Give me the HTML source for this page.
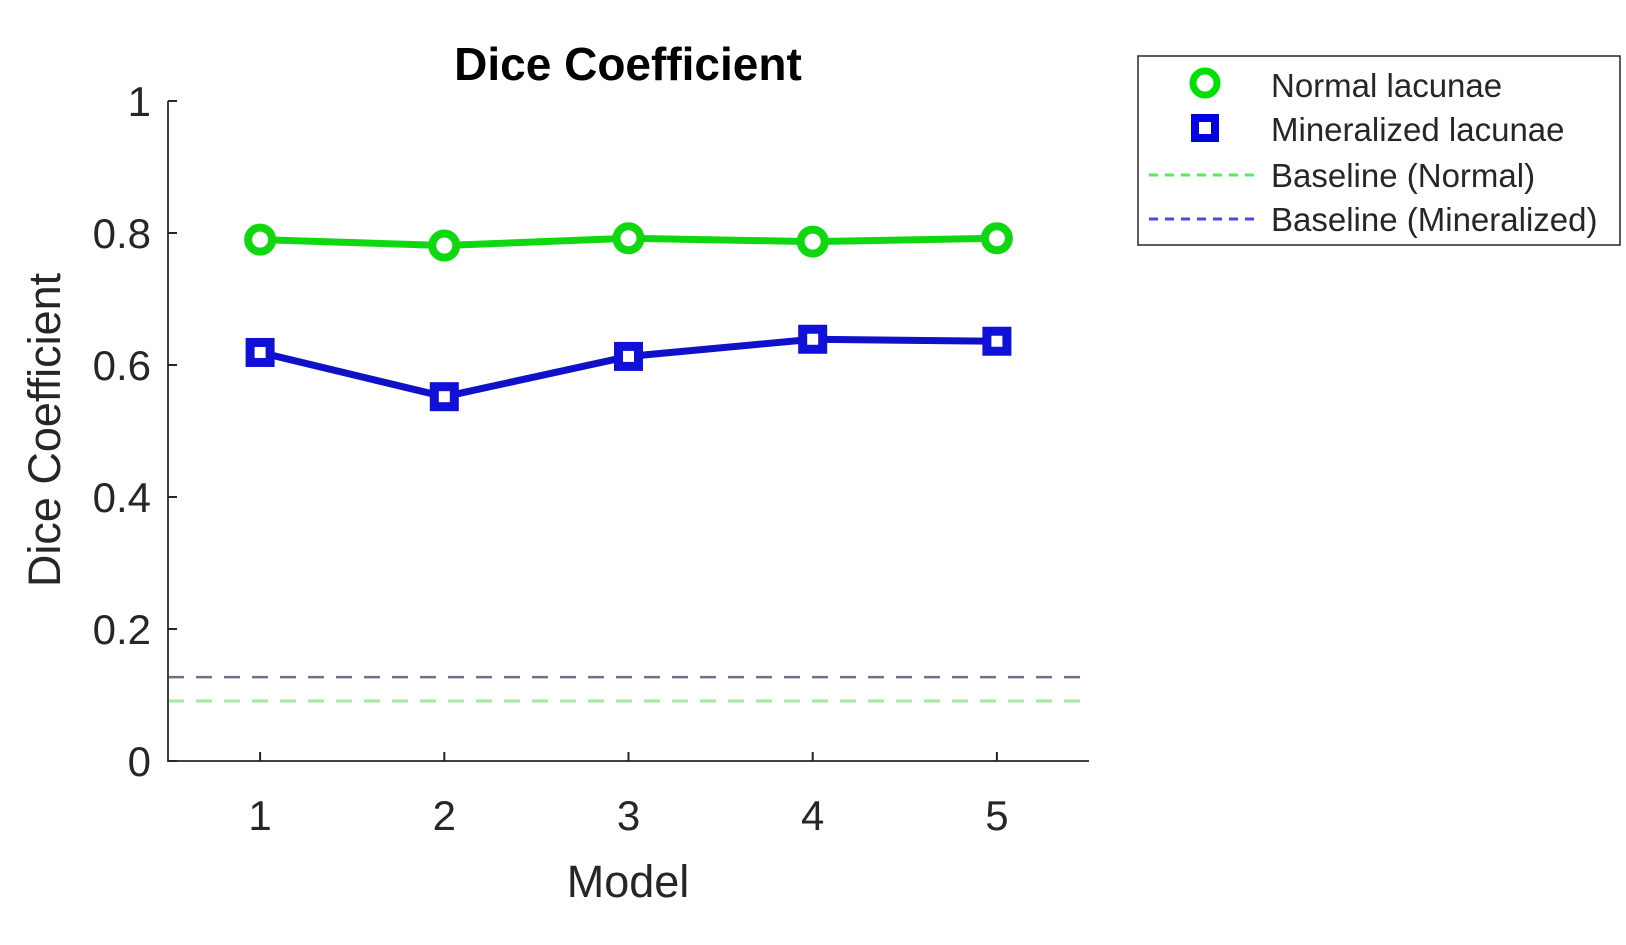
<!DOCTYPE html>
<html><head><meta charset="utf-8"><style>
body{margin:0;background:#fff;}
svg text{font-family:"Liberation Sans",Arial,sans-serif;fill:#262626;}
</style></head><body>
<svg id="chart" width="1626" height="940" viewBox="0 0 1626 940" xmlns="http://www.w3.org/2000/svg">
<text x="628" y="80" font-size="46" font-weight="bold" text-anchor="middle" style="fill:#000">Dice Coefficient</text>
<g id="plot"></g>
<text transform="translate(60,430) rotate(-90)" font-size="45" text-anchor="middle">Dice Coefficient</text>
<text x="628" y="897" font-size="45" text-anchor="middle">Model</text>
<g>
<rect x="1138" y="56" width="482" height="189" fill="#fff" stroke="#262626" stroke-width="1.5"/>
<circle cx="1205" cy="83" r="12" fill="none" stroke="#00e000" stroke-width="7"/>
<text x="1271" y="97" font-size="33">Normal lacunae</text>
<rect x="1195" y="118" width="20" height="20" fill="none" stroke="#0000e0" stroke-width="8"/>
<text x="1271" y="141" font-size="33">Mineralized lacunae</text>
<line x1="1149" y1="175" x2="1255" y2="175" stroke="#5ee85e" stroke-width="3" stroke-dasharray="9,7"/>
<text x="1271" y="187" font-size="33">Baseline (Normal)</text>
<line x1="1149" y1="219" x2="1255" y2="219" stroke="#4a4ae8" stroke-width="3" stroke-dasharray="9,7"/>
<text x="1271" y="231" font-size="33">Baseline (Mineralized)</text>
</g>
</svg>
<script>
const models=[1,2,3,4,5];
const normalVals=[0.790,0.781,0.792,0.787,0.792];
const mineralVals=[0.619,0.552,0.613,0.639,0.636];
const baselineNormal=0.091;
const baselineMineral=0.127;
const yTicks=[0,0.2,0.4,0.6,0.8,1];
const yTickLabels=["0","0.2","0.4","0.6","0.8","1"];

const NS="http://www.w3.org/2000/svg";
const L=168,R=1089,T=101,B=761;
function xs(v){return L+(v-0.5)/5*(R-L);}
function ys(v){return B-v*(B-T);}
const g=document.getElementById('plot');
function mk(tag,attrs){const e=document.createElementNS(NS,tag);for(const k in attrs)e.setAttribute(k,attrs[k]);g.appendChild(e);return e;}

let e;
e=mk('line',{x1:L,y1:ys(baselineMineral),x2:R,y2:ys(baselineMineral),stroke:'#6a6f8c','stroke-width':2.5,'stroke-dasharray':'16,12'});


e=mk('line',{x1:L,y1:ys(baselineNormal),x2:R,y2:ys(baselineNormal),stroke:'#a6e6a6','stroke-width':3,'stroke-dasharray':'16,12'});



e=mk('path',{d:`M${L},${T}V${B}H${R}`,fill:'none',stroke:'#404040','stroke-width':2});



yTicks.forEach((v,i)=>{
  e=mk('line',{x1:L,y1:ys(v),x2:L+9,y2:ys(v),stroke:'#262626','stroke-width':2});
  
  
  e=mk('text',{x:151,y:ys(v)+15,'font-size':42,'text-anchor':'end'});
  e.textContent=yTickLabels[i];
  
  
});
models.forEach(m=>{
  e=mk('line',{x1:xs(m),y1:B,x2:xs(m),y2:B-9,stroke:'#262626','stroke-width':2});
  
  
  e=mk('text',{x:xs(m),y:830,'font-size':42,'text-anchor':'middle'});
  e.textContent=String(m);
  
  
});

e=mk('polyline',{points:models.map((m,i)=>xs(m)+','+ys(normalVals[i])).join(' '),fill:'none',stroke:'#10d810','stroke-width':7,'stroke-linejoin':'round'});


e=mk('polyline',{points:models.map((m,i)=>xs(m)+','+ys(mineralVals[i])).join(' '),fill:'none',stroke:'#1010c8','stroke-width':7,'stroke-linejoin':'round'});



models.forEach((m,i)=>{
  e=mk('circle',{cx:xs(m),cy:ys(normalVals[i]),r:12,fill:'#fff',stroke:'#10d810','stroke-width':8});
  
  
  e=mk('rect',{x:xs(m)-10,y:ys(mineralVals[i])-10,width:20,height:20,fill:'#fff',stroke:'#1010d8','stroke-width':9});
  
  
});
</script>
</body></html>
